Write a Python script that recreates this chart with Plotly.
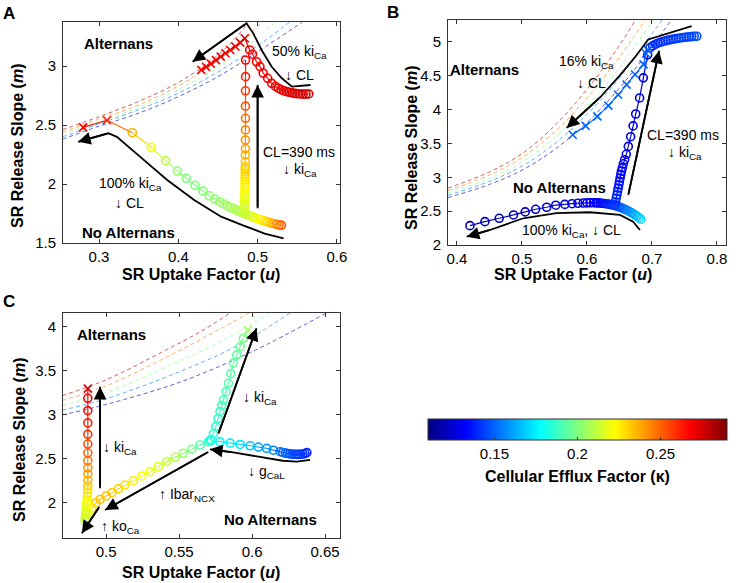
import plotly.graph_objects as go

K_MIN, K_MAX = 0.11, 0.29
JET_STOPS = [(0.0, (0, 0, 128)), (0.125, (0, 0, 255)), (0.375, (0, 255, 255)),
             (0.625, (255, 255, 0)), (0.875, (255, 0, 0)), (1.0, (128, 0, 0))]
JET = [[s, 'rgb(%d,%d,%d)' % c] for s, c in JET_STOPS]

# ---------------- Panel A data ----------------
A1_u = [0.530,0.527,0.524,0.521,0.518,0.515,0.512,0.509,0.506,0.503,0.500,0.497,0.494,0.491,0.488,0.485,0.482,0.479,0.476,0.473,0.470,
        0.466,0.462,0.457,0.452,0.446,0.439,0.431,0.421,0.410,0.399,0.384,0.366,0.342,0.310,0.280]
A1_m = [1.650,1.654,1.658,1.663,1.668,1.674,1.680,1.686,1.692,1.699,1.706,1.713,1.721,1.729,1.737,1.745,1.753,1.761,1.770,1.780,1.790,
        1.801,1.815,1.831,1.850,1.872,1.900,1.940,1.989,2.048,2.110,2.198,2.311,2.435,2.540,2.480]
A1_k = [0.254,0.250,0.246,0.242,0.239,0.236,0.233,0.230,0.227,0.225,0.223,0.221,0.219,0.217,0.215,0.213,0.212,0.211,0.210,0.209,0.208,
        0.207,0.206,0.205,0.204,0.203,0.202,0.201,0.200,0.200,0.203,0.211,0.223,0.236,0.262,0.268]
A1_t = "o" * 34 + "xx"

A2_u = [0.4832,0.4833,0.4834,0.4835,0.4836,0.4837,0.4838,0.4839,0.4840,0.4841,0.4842,0.4842,0.4843,0.4843,0.4844,
        0.4844,0.4845,0.4845,0.4845,0.4846,0.4846,0.4846,0.4846,0.4847,0.4847,0.4847,0.4847,0.4848,0.4848]
A2_m = [1.770,1.790,1.810,1.830,1.850,1.870,1.890,1.912,1.935,1.956,1.977,2.000,2.020,2.040,2.060,
        2.083,2.104,2.125,2.147,2.190,2.246,2.300,2.373,2.458,2.557,2.660,2.790,2.910,3.050]
A2_k = [0.213,0.214,0.215,0.216,0.217,0.218,0.219,0.220,0.221,0.222,0.223,0.224,0.225,0.226,0.227,
        0.228,0.229,0.230,0.231,0.233,0.236,0.239,0.242,0.245,0.249,0.253,0.258,0.262,0.266]
A2_t = "o" * 29

A3_u = [0.5645,0.5610,0.5575,0.5540,0.5505,0.5470,0.5435,0.5400,0.5365,0.5330,0.5295,0.5260,0.5225,0.5178,0.5127,
        0.5070,0.5030,0.4987,0.4936,0.4900,0.4838,0.4780,0.4720,0.4655,0.4595,0.4535,0.4475,0.4410,0.4350,0.4290]
A3_m = [2.763,2.762,2.762,2.763,2.765,2.768,2.772,2.777,2.783,2.790,2.800,2.812,2.827,2.853,2.896,
        2.940,2.995,3.036,3.100,3.136,3.235,3.198,3.165,3.136,3.108,3.080,3.050,3.020,2.993,2.967]
A3_k = [0.276,0.276,0.275,0.275,0.274,0.274,0.273,0.273,0.272,0.272,0.271,0.271,0.270,0.270,0.269,
        0.269,0.268,0.268,0.268,0.268,0.272,0.271,0.271,0.270,0.270,0.270,0.269,0.269,0.269,0.268]
A3_t = "o" * 20 + "x" * 10

# alternans boundaries (one per efflux factor)
BOUND_K = [0.280, 0.245, 0.200, 0.155, 0.120]
A_bound_u = [[0.254,0.300,0.350,0.400,0.440,0.470,0.488],
             [0.254,0.300,0.350,0.400,0.440,0.480,0.505],
             [0.254,0.300,0.350,0.400,0.450,0.490,0.522],
             [0.254,0.300,0.350,0.400,0.450,0.500,0.540],
             [0.254,0.300,0.350,0.400,0.450,0.500,0.556]]
A_bound_m = [[2.460,2.570,2.700,2.860,3.040,3.220,3.370],
             [2.440,2.550,2.670,2.830,3.000,3.200,3.370],
             [2.420,2.530,2.650,2.800,2.990,3.190,3.370],
             [2.400,2.510,2.630,2.770,2.950,3.170,3.370],
             [2.380,2.490,2.600,2.740,2.910,3.120,3.370]]

A_arrow_u = [[0.5327,0.509,0.480,0.454,0.420,0.386,0.352,0.3225,0.3118,0.2736],
             [0.500,0.500],
             [0.5667,0.5433,0.5306,0.5178,0.505,0.4945,0.486,0.418]]
A_arrow_m = [[1.540,1.580,1.653,1.723,1.864,2.034,2.230,2.400,2.430,2.358],
             [1.794,2.840],
             [2.839,2.825,2.896,2.994,3.136,3.277,3.362,3.037]]

# ---------------- Panel B data ----------------
B1_u = [0.683,0.680,0.677,0.674,0.671,0.668,0.665,0.662,0.659,0.656,0.653,0.650,0.647,0.644,0.641,0.638,0.635,0.632,0.629,0.626,
        0.623,0.620,0.617,0.614,0.610,0.605,0.600,0.594,0.586,0.577,0.566,0.552,0.538,0.521,0.505,0.487,0.465,0.443,0.420]
B1_m = [2.380,2.403,2.424,2.444,2.463,2.480,2.496,2.511,2.524,2.537,2.549,2.560,2.570,2.579,2.587,2.594,2.600,2.605,2.610,2.614,
        2.617,2.620,2.622,2.623,2.624,2.624,2.623,2.620,2.617,2.610,2.600,2.588,2.558,2.528,2.489,2.444,2.395,2.345,2.286]
B1_k = [0.172,0.170,0.168,0.166,0.164,0.162,0.160,0.158,0.156,0.154,0.152,0.150,0.148,0.146,0.144,0.142,0.140,0.139,0.138,0.137,
        0.136,0.135,0.134,0.133,0.132,0.131,0.130,0.129,0.128,0.127,0.126,0.125,0.124,0.123,0.122,0.121,0.120,0.119,0.118]
B1_t = "o" * 39

B2_u = [0.6430,0.6440,0.6450,0.6460,0.6470,0.6480,0.6490,0.6500,0.6510,0.6520,0.6530,0.6545,0.6560,0.6580,0.6605,
        0.6636,0.6672,0.6710,0.6750,0.6810,0.6867,0.6934]
B2_m = [2.600,2.640,2.690,2.740,2.790,2.840,2.890,2.940,2.990,3.040,3.090,3.140,3.200,3.260,3.340,
        3.457,3.600,3.760,3.936,4.173,4.470,4.810]
B2_k = [0.142,0.141,0.140,0.139,0.138,0.137,0.136,0.135,0.134,0.133,0.132,0.131,0.130,0.129,0.128,
        0.127,0.126,0.126,0.125,0.125,0.125,0.126]
B2_t = "o" * 22

B3_u = [0.769,0.765,0.761,0.757,0.753,0.749,0.745,0.741,0.737,0.733,0.729,0.725,0.721,0.717,0.713,0.709,0.705,0.701,0.697,
        0.694,0.691,0.687,0.674,0.661,0.648,0.633,0.616,0.598,0.578]
B3_m = [5.085,5.083,5.080,5.076,5.072,5.067,5.062,5.056,5.050,5.043,5.035,5.027,5.018,5.008,4.996,4.982,4.965,4.943,4.915,
        4.880,4.830,4.670,4.520,4.370,4.220,4.060,3.900,3.760,3.630]
B3_k = [0.146,0.146,0.145,0.145,0.145,0.144,0.144,0.144,0.143,0.143,0.143,0.142,0.142,0.142,0.141,0.141,0.141,0.140,0.140,
        0.150,0.150,0.150,0.150,0.150,0.150,0.150,0.150,0.150,0.150]
B3_t = "o" * 19 + "x" * 10

B_bound_u = [[0.386,0.450,0.500,0.550,0.600,0.645,0.675],
             [0.386,0.450,0.500,0.550,0.600,0.650,0.690],
             [0.386,0.450,0.500,0.550,0.600,0.650,0.702],
             [0.386,0.450,0.500,0.550,0.600,0.650,0.700,0.716],
             [0.386,0.450,0.500,0.550,0.600,0.650,0.700,0.730]]
B_bound_m = [[2.840,3.080,3.350,3.760,4.300,4.880,5.330],
             [2.805,3.035,3.290,3.670,4.170,4.780,5.330],
             [2.770,2.985,3.225,3.580,4.050,4.620,5.330],
             [2.735,2.940,3.165,3.495,3.930,4.470,5.120,5.330],
             [2.700,2.895,3.105,3.410,3.810,4.320,4.930,5.330]]

B_arrow_u = [[0.6815,0.671,0.6508,0.6046,0.553,0.502,0.4508,0.415],
             [0.6636,0.711],
             [0.761,0.6943,0.675,0.650,0.620,0.5688]]
B_arrow_m = [[2.222,2.345,2.444,2.484,2.470,2.395,2.222,2.123],
             [2.740,4.870],
             [5.234,5.037,4.790,4.500,4.180,3.730]]

# ---------------- Panel C data ----------------
C1_u = [0.6375,0.6362,0.6348,0.6333,0.6318,0.6303,0.6288,0.6273,0.6258,0.6243,0.6228,0.6210,0.6192,0.6146,0.6100,
        0.6043,0.5986,0.5918,0.5850,0.5780,0.5717]
C1_m = [2.572,2.562,2.556,2.553,2.552,2.552,2.553,2.555,2.558,2.562,2.567,2.574,2.583,2.600,2.620,
        2.635,2.650,2.665,2.680,2.697,2.705]
C1_k = [0.138,0.139,0.140,0.141,0.142,0.143,0.144,0.145,0.146,0.147,0.148,0.150,0.152,0.156,0.160,
        0.164,0.168,0.172,0.175,0.178,0.181]
C1_t = "o" * 21

C2_u = [0.5717,0.5735,0.5752,0.5767,0.5780,0.5792,0.5803,0.5822,0.5838,0.5854,0.5872,0.5895,0.5918,0.5940,0.5972]
C2_m = [2.720,2.790,2.870,2.960,3.040,3.110,3.170,3.265,3.360,3.470,3.590,3.680,3.776,3.870,3.966]
C2_k = [0.182,0.184,0.186,0.187,0.188,0.189,0.190,0.191,0.192,0.193,0.194,0.195,0.196,0.198,0.205]
C2_t = "o" * 14 + "x"

C3_u = [0.5701,0.5644,0.5587,0.5529,0.5473,0.5416,0.5358,0.5301,0.5245,0.5187,0.5130,0.5084,0.5039,0.5000,0.4959,0.4932,
        0.4902,0.4879,0.4863,0.4856,
        0.4858,0.4860,0.4862,0.4864,0.4866,0.4868,0.4870,0.4871,0.4872,0.4873,0.4874,0.4875,0.4875,0.4875,0.4875,0.4875,
        0.4875,0.4875,0.4875,0.4875,0.4875,0.4875,0.4875]
C3_m = [2.697,2.659,2.610,2.565,2.519,2.470,2.413,2.356,2.307,2.253,2.205,2.160,2.117,2.080,2.040,2.003,
        1.940,1.883,1.826,1.800,
        1.830,1.860,1.890,1.920,1.950,1.980,2.010,2.040,2.070,2.110,2.156,2.200,2.260,2.330,2.400,2.480,
        2.570,2.670,2.780,2.910,3.050,3.190,3.300]
C3_k = [0.186,0.193,0.199,0.204,0.208,0.212,0.216,0.219,0.222,0.225,0.228,0.230,0.232,0.233,0.233,0.232,
        0.228,0.222,0.216,0.213,
        0.214,0.215,0.216,0.217,0.218,0.219,0.220,0.222,0.224,0.226,0.228,0.231,0.234,0.238,0.242,0.246,
        0.250,0.254,0.258,0.262,0.265,0.268,0.275]
C3_t = "o" * 42 + "x"

C_bound_u = [[0.470,0.500,0.540,0.565,0.585],
             [0.470,0.500,0.550,0.575,0.598],
             [0.470,0.500,0.550,0.580,0.612],
             [0.470,0.500,0.550,0.590,0.626],
             [0.470,0.500,0.550,0.600,0.651]]
C_bound_m = [[3.220,3.400,3.730,3.950,4.160],
             [3.165,3.330,3.730,3.950,4.160],
             [3.110,3.255,3.610,3.850,4.160],
             [3.055,3.185,3.490,3.790,4.160],
             [3.000,3.120,3.370,3.720,4.160]]

C_arrow_u = [[0.6397,0.6306,0.621,0.6055,0.587,0.5712],
             [0.570,0.4993],
             [0.4954,0.4834],
             [0.4959,0.4959],
             [0.577,0.603]]
C_arrow_m = [[2.490,2.470,2.480,2.526,2.575,2.610],
             [2.580,1.920],
             [1.958,1.656],
             [2.167,3.320],
             [2.790,3.985]]

CBAR_TICKS = [0.15, 0.20, 0.25]
CBAR_LABELS = ["0.15", "0.2", "0.25"]

FONT = "Liberation Sans, Arial, Helvetica, sans-serif"


def jet_rgb(k):
    t = (k - K_MIN) / (K_MAX - K_MIN)
    t = min(max(t, 0.0), 1.0)
    for (s0, c0), (s1, c1) in zip(JET_STOPS[:-1], JET_STOPS[1:]):
        if t <= s1:
            f = (t - s0) / (s1 - s0) if s1 > s0 else 0
            c = [round(a + (b - a) * f) for a, b in zip(c0, c1)]
            return 'rgb(%d,%d,%d)' % tuple(c)
    return 'rgb(128,0,0)'


fig = go.Figure()


def add_traj(u, m, k, types, xr, yr):
    assert len(u) == len(m) == len(k) == len(types)
    groups = {}
    for i in range(len(u) - 1):
        c = jet_rgb((k[i] + k[i + 1]) / 2)
        g = groups.setdefault(c, ([], []))
        g[0].extend([u[i], u[i + 1], None])
        g[1].extend([m[i], m[i + 1], None])
    for c, (xs, ys) in groups.items():
        fig.add_trace(go.Scatter(x=xs, y=ys, mode='lines', line=dict(color=c, width=1.2),
                                 xaxis=xr, yaxis=yr, hoverinfo='skip', showlegend=False))
    for sym, code, size in (('circle-open', 'o', 8), ('x-thin-open', 'x', 8)):
        idx = [i for i, t in enumerate(types) if t == code]
        if not idx:
            continue
        fig.add_trace(go.Scatter(
            x=[u[i] for i in idx], y=[m[i] for i in idx], mode='markers',
            marker=dict(symbol=sym, size=size, color=[k[i] for i in idx], colorscale=JET,
                        cmin=K_MIN, cmax=K_MAX, line=dict(width=1.6)),
            xaxis=xr, yaxis=yr, hoverinfo='skip', showlegend=False))


def add_bounds(us, ms, xr, yr):
    for u, m, k in zip(us, ms, BOUND_K):
        fig.add_trace(go.Scatter(x=u, y=m, mode='lines', line=dict(color=jet_rgb(k), width=0.9, dash='4px,3px', shape='spline', smoothing=1),
                                 opacity=0.7, xaxis=xr, yaxis=yr, hoverinfo='skip', showlegend=False))


annotations = []


def add_arrows(us, ms, xr, yr):
    for u, m in zip(us, ms):
        fig.add_trace(go.Scatter(x=u, y=m, mode='lines', line=dict(color='black', width=1.8),
                                 xaxis=xr, yaxis=yr, hoverinfo='skip', showlegend=False))
        annotations.append(dict(x=u[-1], y=m[-1], ax=u[-2], ay=m[-2], xref=xr, yref=yr, axref=xr, ayref=yr,
                                showarrow=True, arrowhead=2, arrowsize=1.4, arrowwidth=1.8, arrowcolor='black',
                                text='', standoff=0))


def add_text(x, y, txt, xr, yr, bold=False, size=14):
    if bold:
        txt = '<b>' + txt + '</b>'
    annotations.append(dict(x=x, y=y, xref=xr, yref=yr, text=txt, showarrow=False,
                            xanchor='center', yanchor='middle',
                            font=dict(family=FONT, size=size, color='black')))


# Panel A
add_bounds(A_bound_u, A_bound_m, 'x', 'y')
add_traj(A1_u, A1_m, A1_k, A1_t, 'x', 'y')
add_traj(A2_u, A2_m, A2_k, A2_t, 'x', 'y')
add_traj(A3_u, A3_m, A3_k, A3_t, 'x', 'y')
add_arrows(A_arrow_u, A_arrow_m, 'x', 'y')
add_text(0.324, 3.195, 'Alternans', 'x', 'y', bold=True, size=15)
add_text(0.337, 1.59, 'No Alternans', 'x', 'y', bold=True, size=15)
add_text(0.553, 3.12, '50% ki<sub>Ca</sub>', 'x', 'y')
add_text(0.553, 2.92, '↓ CL', 'x', 'y')
add_text(0.552, 2.274, 'CL=390 ms', 'x', 'y')
add_text(0.553, 2.12, '↓ ki<sub>Ca</sub>', 'x', 'y')
add_text(0.340, 2.00, '100% ki<sub>Ca</sub>', 'x', 'y')
add_text(0.338, 1.836, '↓ CL', 'x', 'y')

# Panel B
add_bounds(B_bound_u, B_bound_m, 'x2', 'y2')
add_traj(B1_u, B1_m, B1_k, B1_t, 'x2', 'y2')
add_traj(B2_u, B2_m, B2_k, B2_t, 'x2', 'y2')
add_traj(B3_u, B3_m, B3_k, B3_t, 'x2', 'y2')
add_arrows(B_arrow_u, B_arrow_m, 'x2', 'y2')
add_text(0.443, 4.593, 'Alternans', 'x2', 'y2', bold=True, size=15)
add_text(0.5585, 2.85, 'No Alternans', 'x2', 'y2', bold=True, size=15)
add_text(0.600, 4.70, '16% ki<sub>Ca</sub>', 'x2', 'y2')
add_text(0.607, 4.395, '↓ CL', 'x2', 'y2')
add_text(0.748, 3.63, 'CL=390 ms', 'x2', 'y2')
add_text(0.751, 3.36, '↓ ki<sub>Ca</sub>', 'x2', 'y2')
add_text(0.5765, 2.20, '100% ki<sub>Ca</sub>, ↓ CL', 'x2', 'y2')

# Panel C
add_bounds(C_bound_u, C_bound_m, 'x3', 'y3')
add_traj(C1_u, C1_m, C1_k, C1_t, 'x3', 'y3')
add_traj(C2_u, C2_m, C2_k, C2_t, 'x3', 'y3')
add_traj(C3_u, C3_m, C3_k, C3_t, 'x3', 'y3')
add_arrows(C_arrow_u, C_arrow_m, 'x3', 'y3')
add_text(0.5039, 3.91, 'Alternans', 'x3', 'y3', bold=True, size=15)
add_text(0.6123, 1.807, 'No Alternans', 'x3', 'y3', bold=True, size=15)
add_text(0.5096, 2.62, '↓ ki<sub>Ca</sub>', 'x3', 'y3')
add_text(0.6055, 3.19, '↓ ki<sub>Ca</sub>', 'x3', 'y3')
add_text(0.610, 2.355, '↓ g<sub>CaL</sub>', 'x3', 'y3')
add_text(0.5553, 2.09, '↑ Ibar<sub>NCX</sub>', 'x3', 'y3')
add_text(0.5096, 1.73, '↑ ko<sub>Ca</sub>', 'x3', 'y3')

# colorbar carrier
fig.add_trace(go.Scatter(
    x=[0.3], y=[-10], mode='markers', xaxis='x', yaxis='y', hoverinfo='skip', showlegend=False,
    marker=dict(size=1, color=[0.2], colorscale=JET, cmin=K_MIN, cmax=K_MAX, showscale=True,
                colorbar=dict(orientation='h', x=577.5 / 736, xanchor='center', y=1 - 419 / 583, yanchor='top',
                              len=299 / 736, lenmode='fraction', thickness=21, thicknessmode='pixels',
                              xpad=0, ypad=0, outlinewidth=1, outlinecolor='#333',
                              tickvals=CBAR_TICKS, ticktext=CBAR_LABELS, ticks='inside', ticklen=3,
                              tickcolor='#333', tickfont=dict(family=FONT, size=15, color='black')))))

W, H = 736, 583


def px(x):
    return x / W


def py(y):
    return 1 - y / H


# axis titles and panel labels (paper coords)
ttl_x = '<b>SR Uptake Factor (<i>u</i>)</b>'
ttl_y = '<b>SR Release Slope (<i>m</i>)</b>'
for (x, y, t, ang) in [(201, 274, ttl_x, 0), (573, 274, ttl_x, 0), (201, 572, ttl_x, 0),
                       (18, 146, ttl_y, -90), (411, 148, ttl_y, -90), (19, 440, ttl_y, -90)]:
    annotations.append(dict(x=px(x), y=py(y), xref='paper', yref='paper', text=t, showarrow=False,
                            xanchor='center', yanchor='middle', textangle=ang,
                            font=dict(family=FONT, size=16, color='black')))
for (x, y, t) in [(9, 14, 'A'), (393, 12, 'B'), (9, 301, 'C')]:
    annotations.append(dict(x=px(x), y=py(y), xref='paper', yref='paper', text='<b>' + t + '</b>',
                            xanchor='center', yanchor='middle',
                            showarrow=False, font=dict(family=FONT, size=17, color='black')))
annotations.append(dict(x=px(577), y=py(476), xref='paper', yref='paper',
                        xanchor='center', yanchor='middle',
                        text='<b>Cellular Efflux Factor (κ)</b>', showarrow=False,
                        font=dict(family=FONT, size=16, color='black')))

axis_common = dict(showgrid=False, zeroline=False, showline=True, mirror='ticks', ticks='inside',
                   ticklen=4, tickcolor='#333', linecolor='#333', linewidth=1,
                   tickfont=dict(family=FONT, size=15, color='black'))
xa = dict(ticklabelstandoff=0, **axis_common)
ya = dict(ticklabelstandoff=3, **axis_common)

fig.update_layout(
    width=W, height=H, paper_bgcolor='white', plot_bgcolor='white',
    margin=dict(l=0, r=0, t=0, b=0, autoexpand=False),
    showlegend=False, annotations=annotations, hovermode=False,
    xaxis=dict(domain=[63 / W, 340 / W], range=[0.2546, 0.6039], anchor='y',
               tickvals=[0.3, 0.4, 0.5, 0.6], ticktext=['0.3', '0.4', '0.5', '0.6'], **xa),
    yaxis=dict(domain=[py(243), py(22)], range=[1.5, 3.373], anchor='x',
               tickvals=[1.5, 2, 2.5, 3], ticktext=['1.5', '2', '2.5', '3'], **ya),
    xaxis2=dict(domain=[448 / W, 726 / W], range=[0.3862, 0.8139], anchor='y2',
                tickvals=[0.4, 0.5, 0.6, 0.7, 0.8], ticktext=['0.4', '0.5', '0.6', '0.7', '0.8'], **xa),
    yaxis2=dict(domain=[py(245), py(20)], range=[2.0, 5.325], anchor='x2',
                tickvals=[2, 2.5, 3, 3.5, 4, 4.5, 5], ticktext=['2', '2.5', '3', '3.5', '4', '4.5', '5'], **ya),
    xaxis3=dict(domain=[63 / W, 340 / W], range=[0.4705, 0.6602], anchor='y3',
                tickvals=[0.5, 0.55, 0.6, 0.65], ticktext=['0.5', '0.55', '0.6', '0.65'], **xa),
    yaxis3=dict(domain=[py(538), py(313)], range=[1.602, 4.159], anchor='x3',
                tickvals=[2, 2.5, 3, 3.5, 4], ticktext=['2', '2.5', '3', '3.5', '4'], **ya),
)

fig.write_html("out.html", config={'displayModeBar': False, 'staticPlot': True},
               post_script="document.body.style.margin='0px';document.body.style.overflow='hidden';")
